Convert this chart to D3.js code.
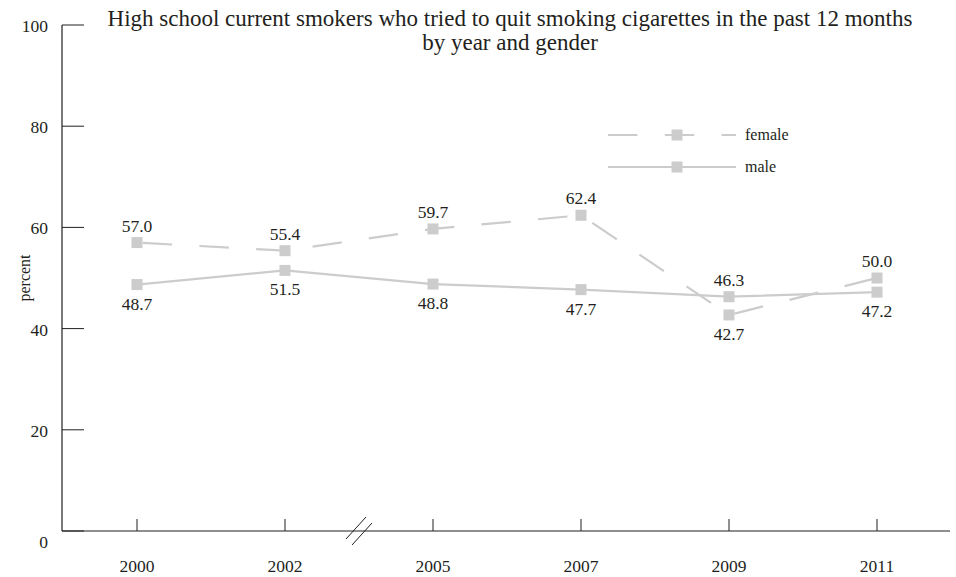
<!DOCTYPE html>
<html><head><meta charset="utf-8">
<script src="https://cdn.jsdelivr.net/npm/d3@7"></script>
<style>body{margin:0;background:#fff}svg{display:block}</style>
</head><body><svg id="c" width="956" height="577"></svg>
<script>
const years = ["2000","2002","2005","2007","2009","2011"];
const female = [57.0,55.4,59.7,62.4,42.7,50.0];
const male = [48.7,51.5,48.8,47.7,46.3,47.2];
const femaleLabelPos = ["above","above","above","above","below","above"];
const maleLabelPos = ["below","below","below","below","above","below"];
const yTicks = [0,20,40,60,80,100];
const titleLines = ["High school current smokers who tried to quit smoking cigarettes in the past 12 months","by year and gender"];

const svg = d3.select("#c");
const font = "'Liberation Serif', 'DejaVu Serif', serif";
const axisX0 = 62, axisX1 = 950, yTop = 25, yBot = 531;
const x = d3.scalePoint().domain(years).range([137, 877]);
const y = d3.scaleLinear().domain([0,100]).range([yBot, yTop]);
const grey = "#cccccc";
const ink = "#231f20";

// title
svg.append("g").selectAll("text").data(titleLines).join("text")
  .attr("x", 510).attr("y", (d,i)=>26+i*24).attr("text-anchor","middle")
  .attr("font-family", font).attr("font-size", 23).attr("fill",ink).text(d=>d);

// y axis
const ya = svg.append("g");
ya.append("line").attr("x1",axisX0).attr("x2",axisX0).attr("y1",y(100)).attr("y2",yBot).attr("stroke",ink).attr("stroke-width",1.2);
ya.selectAll("line.t").data(yTicks).join("line").attr("class","t")
  .attr("x1",axisX0).attr("x2",axisX0+22).attr("y1",d=>y(d)).attr("y2",d=>y(d)).attr("stroke",ink).attr("stroke-width",1);
ya.selectAll("text").data(yTicks).join("text")
  .attr("x",48).attr("y",d=>y(d)+(d===0?17:7)).attr("text-anchor","end")
  .attr("font-family",font).attr("font-size",17.5).attr("fill",ink).text(d=>d);
svg.append("text").attr("transform",`translate(30,${y(50)}) rotate(-90)`).attr("text-anchor","middle")
  .attr("font-family",font).attr("font-size",16).attr("fill",ink).text("percent");

// x axis
const xa = svg.append("g");
xa.append("line").attr("x1",axisX0).attr("x2",axisX1).attr("y1",yBot).attr("y2",yBot).attr("stroke",ink).attr("stroke-width",1.2);
xa.selectAll("line.t").data(years).join("line").attr("class","t")
  .attr("x1",d=>x(d)).attr("x2",d=>x(d)).attr("y1",yBot).attr("y2",yBot-12).attr("stroke",ink).attr("stroke-width",1);
xa.selectAll("text").data(years).join("text")
  .attr("x",d=>x(d)).attr("y",572).attr("text-anchor","middle")
  .attr("font-family",font).attr("font-size",17.5).attr("fill",ink).text(d=>d);
// break marks
const bx = (x("2002")+x("2005"))/2;
[-3,3].forEach(o=>{
  xa.append("line").attr("x1",bx-10+o).attr("y1",yBot+11+o).attr("x2",bx+10+o).attr("y2",yBot-11+o)
    .attr("stroke",ink).attr("stroke-width",1);
});

// series
const line = d3.line().x((d,i)=>x(years[i])).y(d=>y(d));
const dash = "29.5,27.3";
svg.append("path").datum(female).attr("d",line).attr("fill","none").attr("stroke",grey).attr("stroke-width",2.2)
  .attr("stroke-dasharray",dash).attr("stroke-dashoffset",-5.7);
svg.append("path").datum(male).attr("d",line).attr("fill","none").attr("stroke",grey).attr("stroke-width",2.2);
function markers(data){
  svg.append("g").selectAll("rect").data(data).join("rect")
    .attr("x",(d,i)=>x(years[i])-5.5).attr("y",d=>y(d)-5.5).attr("width",11).attr("height",11).attr("fill",grey);
}
markers(female); markers(male);
function labels(data,pos){
  svg.append("g").selectAll("text").data(data).join("text")
    .attr("x",(d,i)=>x(years[i])).attr("y",(d,i)=>pos[i]==="above"? y(d)-11 : y(d)+25)
    .attr("text-anchor","middle").attr("font-family",font).attr("font-size",17.5).attr("fill",ink)
    .text(d=>d.toFixed(1));
}
labels(female,femaleLabelPos); labels(male,maleLabelPos);

// legend
const leg = [{name:"female",dash:dash,y:135},{name:"male",dash:null,y:167}];
const lg = svg.append("g");
leg.forEach(l=>{
  const ln = lg.append("line").attr("x1",608).attr("x2",736).attr("y1",l.y).attr("y2",l.y).attr("stroke",grey).attr("stroke-width",2.2);
  if(l.dash) ln.attr("stroke-dasharray",dash);
  lg.append("rect").attr("x",677-5.5).attr("y",l.y-5.5).attr("width",11).attr("height",11).attr("fill",grey);
  lg.append("text").attr("x",745).attr("y",l.y+5).attr("font-family",font).attr("font-size",16).attr("fill",ink).text(l.name);
});
</script></body></html>
